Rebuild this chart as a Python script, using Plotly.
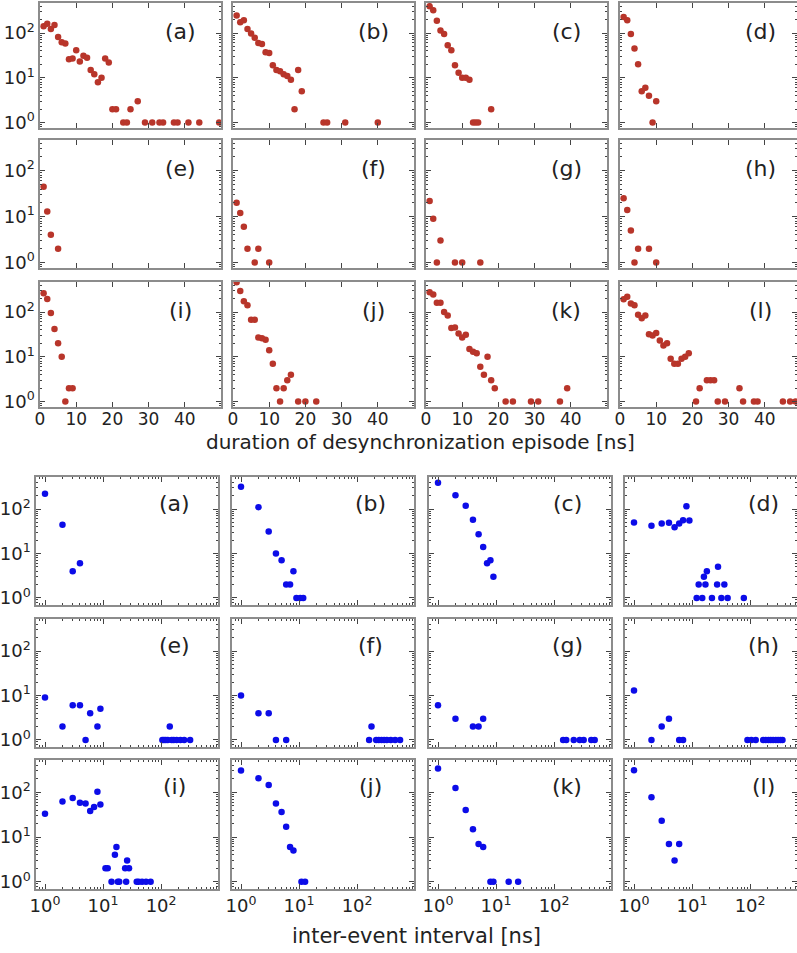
import plotly.graph_objects as go

# ---------------- top grid: duration of desynchronization episode ----------------
dur_x_a = [1,2,3,4,5,6,7,8,9,10,11,12,13,14,15,16,17,18,19,20,21,23,24,25,27,29,31,33,34,37,38,41,44,49.5]
dur_y_a = [141,162,123,151,81,62,58,26,27,41,23,31,28,15,12,8,10,27,22,2,2,1,1,2,3,1,1,1,1,1,1,1,1,1]
dur_x_b = [1,2,3,4,5,6,7,8,9,10,11,12,13,14,15,16,17,18,19,25,26,31,40]
dur_y_b = [245,173,192,123,97,78,60,57,37,36,19,15,14,12,11,9,2,15,5,1,1,1,1]
dur_x_c = [1,2,3,4,5,6,7,8,9,10,11,12,13,13.7,14.4,18]
dur_y_c = [396,322,189,114,95,53,41,19,13,10,10,9,1,1,1,2]
dur_x_d = [1,2,3,4,5,6,7,8,9,10]
dur_y_d = [229,192,95,45,20,5,6,4,1,3]
dur_x_e = [1,2,3,5]
dur_y_e = [45,13,4,2]
dur_x_f = [1,2,3,4,6,7,10]
dur_y_f = [20,12,6,2,1,2,1]
dur_x_g = [1,2,3,4,8,10,15]
dur_y_g = [22,9,1,3,1,1,1]
dur_x_h = [1,2,3,4,5,8,10]
dur_y_h = [25,14,5,1,2,2,1]
dur_x_i = [1,2,3,4,5,6,7,8,9]
dur_y_i = [264,194,95,42,20,10,1,2,2]
dur_x_j = [1,2,3,4,5,6,7,8,9,10,11,12,13,14,15,16,18,20,23]
dur_y_j = [460,295,174,141,67,67,27,26,24,14,7,2,1,2,3,4,1,1,1]
dur_x_k = [1,2,3,4,5,6,7,8,9,10,11,12,13,14,15,16,17,18,19,22,24,29,31,37,39]
dur_y_k = [275,247,160,160,100,84,44,45,33,27,31,15,13,12,6,4,10,3,2,1,1,1,1,1,2]
dur_x_l = [1,2,3,4,5,6,7,8,9,10,11,12,13,14,15,16,17,18,19,21,22,24,25,26,27,29,33,34,37,38,45,47,48.5]
dur_y_l = [193,218,155,141,87,73,84,32,30,34,23,18,20,9,7,7,9,10,12,1,2,3,3,3,1,1,2,1,1,1,1,1,1]

# ---------------- bottom grid: inter-event interval ----------------
iei_x_a = [1,2,3,4]
iei_y_a = [219,44,4,6]
iei_x_b = [1,2,3,4,5,6,7,8,9,10.5,11.8]
iei_y_b = [316,110,31,10,7,2,2,4,1,1,1]
iei_x_c = [1,2,3,4,5,6,7,8,9]
iei_y_c = [389,205,118,57,27,14,6,7,3]
iei_x_d = [1,2,3,4,5,6,7,8,9,12,13,15,16,17,18,22,27,28,32,36,41,78]
iei_y_d = [50,42,47,49,39,47,56,115,55,1,2,1,3,2,4,1,2,5,1,2,1,1]
iei_x_e = [1,2,3,4,5,6,8,9,105,112,120,130,141,152,165,185,215,250,316]
iei_y_e = [9,2,6,6,1,4,2,5,1,1,1,1,2,1,1,1,1,1,1]
iei_x_f = [1,2,3,4,6,161,177,213,236,263,292,325,380,452,550]
iei_y_f = [10,4,4,1,1,1,2,1,1,1,1,1,1,1,1]
iei_x_g = [1,2,4,5,6,143,162,218,276,323,436,500]
iei_y_g = [6,3,2,2,3,1,1,1,1,1,1,1]
iei_x_h = [1,2,3,4,6,7,90,105,125,168,186,207,227,249,277,304,333,361]
iei_y_h = [13,1,2,3,1,1,1,1,1,1,1,1,1,1,1,1,1,1]
iei_x_i = [1,2,3,4,5,6,7,8,9,11,12,14,16,17,18,19,24,25,26,28,38,41,47,55,66]
iei_y_i = [33,62,74,58,56,38,47,103,53,2,2,1,4,6,1,1,2,1,3,2,1,1,1,1,1]
iei_x_j = [1,2,3,4,5,6,7,8,11,12.7]
iei_y_j = [307,206,146,56,36,17,6,5,1,1]
iei_x_k = [1,2,3,4,5,6,8,9,16.5,24]
iei_y_k = [341,125,40,15,7,6,1,1,1,1]
iei_x_l = [1,2,3,4,5,6]
iei_y_l = [311,77,23,7,3,7]

panel_letters = ["a","b","c","d","e","f","g","h","i","j","k","l"]
dur_series = [(dur_x_a,dur_y_a),(dur_x_b,dur_y_b),(dur_x_c,dur_y_c),(dur_x_d,dur_y_d),
              (dur_x_e,dur_y_e),(dur_x_f,dur_y_f),(dur_x_g,dur_y_g),(dur_x_h,dur_y_h),
              (dur_x_i,dur_y_i),(dur_x_j,dur_y_j),(dur_x_k,dur_y_k),(dur_x_l,dur_y_l)]
iei_series = [(iei_x_a,iei_y_a),(iei_x_b,iei_y_b),(iei_x_c,iei_y_c),(iei_x_d,iei_y_d),
              (iei_x_e,iei_y_e),(iei_x_f,iei_y_f),(iei_x_g,iei_y_g),(iei_x_h,iei_y_h),
              (iei_x_i,iei_y_i),(iei_x_j,iei_y_j),(iei_x_k,iei_y_k),(iei_x_l,iei_y_l)]

dur_xticks = [0,10,20,30,40]
log_major = [1,10,100]
log_major_text = ["10<sup>0</sup>","10<sup>1</sup>","10<sup>2</sup>"]
log_minor = [m*10**e for e in range(-1,3) for m in range(2,10)]

W, H = 797, 953
FONT = "DejaVu Sans"
RED = "#b8352a"
BLUE = "#0c0ce8"
LINE = "#8c8c8c"

fig = go.Figure()
layout = dict(width=W, height=H, margin=dict(l=0,r=0,t=0,b=0),
              paper_bgcolor="white", plot_bgcolor="white", showlegend=False,
              font=dict(family=FONT, color="#222", size=16))
annotations = []

def px_dom(x0, x1):
    return [max(0, x0/W), min(1, x1/W)]

def py_dom(y0, y1):
    return [1 - y1/H, 1 - y0/H]

top_left = [40, 233, 426, 620]
top_w = 181
top_rows = [(3,128),(140,268),(282,407)]
bot_left = [36, 232, 429, 625]
bot_w = 182
bot_rows = [(477,605),(619,747),(760,889)]

TICKFONT = dict(size=18, family=FONT, color="#222")
common_axis = dict(showline=True, linecolor=LINE, linewidth=1.5, mirror="allticks",
                   ticks="inside", tickcolor="#444", ticklen=5, showgrid=False,
                   zeroline=False, automargin=False, tickfont=TICKFONT)
minor_log = dict(tickmode="array", tickvals=log_minor, ticks="inside", ticklen=2.5,
                 tickcolor="#444", showgrid=False)

for k in range(24):
    n = k + 1
    top = k < 12
    p = k % 12
    r, c = divmod(p, 4)
    if top:
        x0 = top_left[c]; x1 = min(x0 + top_w, W)
        y0, y1 = top_rows[r]
        frac = (x1 - x0) / top_w
        xr = [0, 50*frac]
        xs, ys = dur_series[p]
        xa = dict(common_axis, type="linear", range=xr, tickvals=dur_xticks,
                  showticklabels=(r == 2), domain=px_dom(x0, x1), anchor=f"y{n}",
                  ticklabelstandoff=-4, tickfont=dict(size=17, family=FONT, color="#222"))
        yr = [-0.12, 2.67]
        color = RED
        lab_dx, lab_dy = 140, 28
    else:
        x0 = bot_left[c]; x1 = min(x0 + bot_w, W)
        y0, y1 = bot_rows[r]
        frac = (x1 - x0) / bot_w
        xr = [-0.155, -0.155 + 3.135*frac]
        xs, ys = iei_series[p]
        xa = dict(common_axis, type="log", range=xr, tickvals=log_major, ticktext=log_major_text,
                  showticklabels=(r == 2), domain=px_dom(x0, x1), anchor=f"y{n}",
                  minor=minor_log)
        yr = [-0.16, 2.72]
        color = BLUE
        lab_dx, lab_dy = 138, 26
    ya = dict(common_axis, type="log", range=yr, tickvals=log_major, ticktext=log_major_text,
              showticklabels=(c == 0), domain=py_dom(y0, y1), anchor=f"x{n}",
              minor=minor_log)
    layout[f"xaxis{n}"] = xa
    layout[f"yaxis{n}"] = ya
    fig.add_trace(go.Scatter(x=xs, y=ys, mode="markers", xaxis=f"x{n}", yaxis=f"y{n}",
                             marker=dict(color=color, size=6.5, line=dict(width=0)),
                             cliponaxis=True, hoverinfo="skip"))
    annotations.append(dict(text=f"({panel_letters[p]})", xref="paper", yref="paper",
                            x=(x0 + lab_dx)/W, y=1 - (y0 + lab_dy)/H, showarrow=False,
                            xanchor="center", yanchor="middle",
                            font=dict(size=22, family=FONT, color="#222")))

annotations.append(dict(text="duration of desynchronization episode [ns]", xref="paper", yref="paper",
                        x=420/W, y=1 - 442/H, showarrow=False, xanchor="center", yanchor="middle",
                        font=dict(size=20, family=FONT, color="#222")))
annotations.append(dict(text="inter-event interval [ns]", xref="paper", yref="paper",
                        x=416/W, y=1 - 936/H, showarrow=False, xanchor="center", yanchor="middle",
                        font=dict(size=21, family=FONT, color="#222")))
layout["annotations"] = annotations
fig.update_layout(**layout)
fig.write_html("out.html", config={"displayModeBar": False},
               post_script="document.body.style.margin='0';document.body.style.overflow='hidden';")
